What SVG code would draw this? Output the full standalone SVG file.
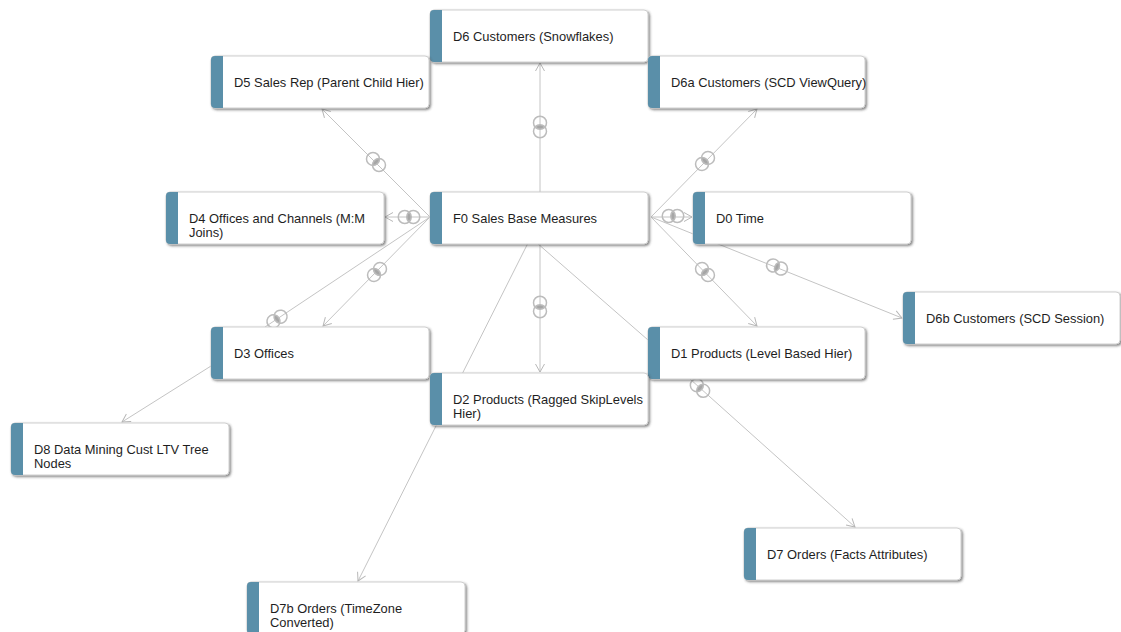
<svg xmlns="http://www.w3.org/2000/svg" xmlns:xlink="http://www.w3.org/1999/xlink" width="1121" height="632" viewBox="0 0 1121 632">
<style>
.bg{fill:#ffffff}
.box{fill:#ffffff;stroke:#cfcfcf;stroke-width:1}
.bar{fill:#5a8fa9}
.lbl{font-family:"Liberation Sans",Arial,sans-serif;font-size:12.9px;fill:#1e1e1e}
.ln{stroke:#c4c4c4;stroke-width:1;fill:none}
.arr{marker-end:url(#arrow)}
.jc{fill:none;stroke:#bcbcbc;stroke-width:1.5}
.jl{fill:#a6a6a6}
</style>
<defs>
<filter id="sh" x="-10%" y="-20%" width="120%" height="150%">
<feDropShadow dx="1.5" dy="1.5" stdDeviation="0.8" flood-color="#444" flood-opacity="0.65"/>
</filter>
<marker id="arrow" markerUnits="userSpaceOnUse" markerWidth="12" markerHeight="12" viewBox="-10 -6 12 12" refX="0" refY="0" orient="auto">
<path d="M-8,-4.5 L0,0 L-8,4.5" fill="none" stroke="#b8b8b8" stroke-width="1"/>
</marker>
<g id="jm">
<path class="jl" d="M0,-5 A6.5,6.5 0 0 1 0,5 A6.5,6.5 0 0 1 0,-5 Z"/>
<circle class="jc" cx="-4.25" cy="0" r="6.5"/>
<circle class="jc" cx="4.25" cy="0" r="6.5"/>
</g>
</defs>
<rect class="bg" x="0" y="0" width="1121" height="632"/>
<g id="connectors">
<line class="ln arr" x1="540" y1="192" x2="540" y2="63"/>
<line class="ln arr" x1="430" y1="217" x2="322" y2="109"/>
<line class="ln arr" x1="430" y1="217" x2="385" y2="217"/>
<line class="ln" x1="430" y1="217" x2="265" y2="327"/>
<line class="ln arr" x1="430" y1="217" x2="323" y2="326"/>
<line class="ln arr" x1="651" y1="217" x2="757" y2="109"/>
<line class="ln arr" x1="651" y1="217" x2="692" y2="217"/>
<line class="ln arr" x1="651" y1="217" x2="757" y2="326"/>
<line class="ln arr" x1="651" y1="217" x2="902" y2="318"/>
<line class="ln arr" x1="540" y1="243" x2="540" y2="372"/>
<line class="ln" x1="537" y1="243" x2="648" y2="340"/>
<line class="ln arr" x1="528" y1="243" x2="358" y2="581"/>
<line class="ln arr" x1="211" y1="366" x2="122" y2="422"/>
<line class="ln arr" x1="690" y1="379" x2="855" y2="527"/>
<use xlink:href="#jm" transform="translate(540,127) rotate(90)"/>
<use xlink:href="#jm" transform="translate(376,162) rotate(45)"/>
<use xlink:href="#jm" transform="translate(409,217)"/>
<use xlink:href="#jm" transform="translate(277,319) rotate(-33.7)"/>
<use xlink:href="#jm" transform="translate(377,272) rotate(-45.5)"/>
<use xlink:href="#jm" transform="translate(705,161) rotate(-45.5)"/>
<use xlink:href="#jm" transform="translate(673,216)"/>
<use xlink:href="#jm" transform="translate(705,272) rotate(45.8)"/>
<use xlink:href="#jm" transform="translate(777,267) rotate(21.9)"/>
<use xlink:href="#jm" transform="translate(540,307) rotate(90)"/>
<use xlink:href="#jm" transform="translate(700,388) rotate(41.9)"/>
</g>
<g id="D6">
<rect class="box" x="430" y="10" width="218" height="52" rx="4" filter="url(#sh)"/>
<path class="bar" d="M434,10 H442 V62 H434 A4,4 0 0 1 430,58 V14 A4,4 0 0 1 434,10 Z"/>
<text class="lbl" x="453" y="40.5">D6 Customers (Snowflakes)</text>
</g>
<g id="D5">
<rect class="box" x="211" y="56" width="218" height="52" rx="4" filter="url(#sh)"/>
<path class="bar" d="M215,56 H223 V108 H215 A4,4 0 0 1 211,104 V60 A4,4 0 0 1 215,56 Z"/>
<text class="lbl" x="234" y="86.5">D5 Sales Rep (Parent Child Hier)</text>
</g>
<g id="D6a">
<rect class="box" x="648" y="56" width="217" height="52" rx="4" filter="url(#sh)"/>
<path class="bar" d="M652,56 H660 V108 H652 A4,4 0 0 1 648,104 V60 A4,4 0 0 1 652,56 Z"/>
<text class="lbl" x="671" y="86.5">D6a Customers (SCD ViewQuery)</text>
</g>
<g id="D4">
<rect class="box" x="166" y="192" width="218" height="52" rx="4" filter="url(#sh)"/>
<path class="bar" d="M170,192 H178 V244 H170 A4,4 0 0 1 166,240 V196 A4,4 0 0 1 170,192 Z"/>
<text class="lbl" x="189" y="222.5">D4 Offices and Channels (M:M<tspan x="189" dy="14.6">Joins)</tspan></text>
</g>
<g id="F0">
<rect class="box" x="430" y="192" width="218" height="52" rx="4" filter="url(#sh)"/>
<path class="bar" d="M434,192 H442 V244 H434 A4,4 0 0 1 430,240 V196 A4,4 0 0 1 434,192 Z"/>
<text class="lbl" x="453" y="222.5">F0 Sales Base Measures</text>
</g>
<g id="D0">
<rect class="box" x="693" y="192" width="218" height="52" rx="4" filter="url(#sh)"/>
<path class="bar" d="M697,192 H705 V244 H697 A4,4 0 0 1 693,240 V196 A4,4 0 0 1 697,192 Z"/>
<text class="lbl" x="716" y="222.5">D0 Time</text>
</g>
<g id="D6b">
<rect class="box" x="903" y="292" width="217" height="52" rx="4" filter="url(#sh)"/>
<path class="bar" d="M907,292 H915 V344 H907 A4,4 0 0 1 903,340 V296 A4,4 0 0 1 907,292 Z"/>
<text class="lbl" x="926" y="322.5">D6b Customers (SCD Session)</text>
</g>
<g id="D3">
<rect class="box" x="211" y="327" width="218" height="52" rx="4" filter="url(#sh)"/>
<path class="bar" d="M215,327 H223 V379 H215 A4,4 0 0 1 211,375 V331 A4,4 0 0 1 215,327 Z"/>
<text class="lbl" x="234" y="357.5">D3 Offices</text>
</g>
<g id="D1">
<rect class="box" x="648" y="327" width="217" height="52" rx="4" filter="url(#sh)"/>
<path class="bar" d="M652,327 H660 V379 H652 A4,4 0 0 1 648,375 V331 A4,4 0 0 1 652,327 Z"/>
<text class="lbl" x="671" y="357.5">D1 Products (Level Based Hier)</text>
</g>
<g id="D2">
<rect class="box" x="430" y="373" width="218" height="52" rx="4" filter="url(#sh)"/>
<path class="bar" d="M434,373 H442 V425 H434 A4,4 0 0 1 430,421 V377 A4,4 0 0 1 434,373 Z"/>
<text class="lbl" x="453" y="403.5">D2 Products (Ragged SkipLevels<tspan x="453" dy="14.6">Hier)</tspan></text>
</g>
<g id="D8">
<rect class="box" x="11" y="423" width="218" height="52" rx="4" filter="url(#sh)"/>
<path class="bar" d="M15,423 H23 V475 H15 A4,4 0 0 1 11,471 V427 A4,4 0 0 1 15,423 Z"/>
<text class="lbl" x="34" y="453.5">D8 Data Mining Cust LTV Tree<tspan x="34" dy="14.6">Nodes</tspan></text>
</g>
<g id="D7">
<rect class="box" x="744" y="528" width="217" height="52" rx="4" filter="url(#sh)"/>
<path class="bar" d="M748,528 H756 V580 H748 A4,4 0 0 1 744,576 V532 A4,4 0 0 1 748,528 Z"/>
<text class="lbl" x="767" y="558.5">D7 Orders (Facts Attributes)</text>
</g>
<g id="D7b">
<rect class="box" x="247" y="582" width="218" height="52" rx="4" filter="url(#sh)"/>
<path class="bar" d="M251,582 H259 V634 H251 A4,4 0 0 1 247,630 V586 A4,4 0 0 1 251,582 Z"/>
<text class="lbl" x="270" y="612.5">D7b Orders (TimeZone<tspan x="270" dy="14.6">Converted)</tspan></text>
</g>
</svg>
